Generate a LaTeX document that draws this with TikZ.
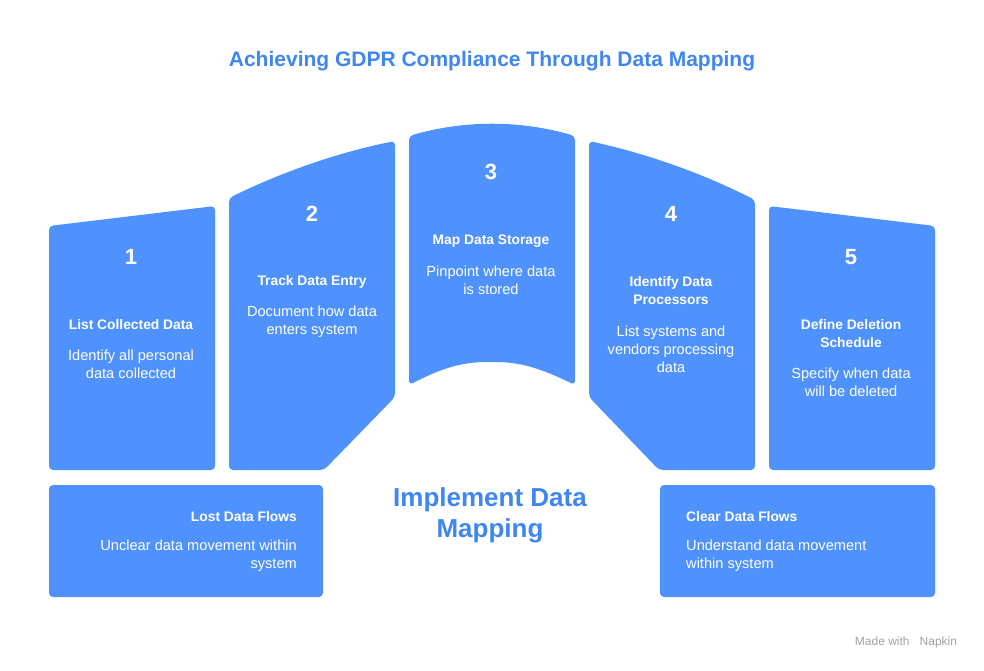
\documentclass[tikz,border=0pt]{standalone}
\usepackage{fontspec}
\usepackage{xcolor}
\usepackage{tikz}
\setmainfont{Liberation Sans}
\usetikzlibrary{
  positioning,
  calc
}
\definecolor{gdFill}{HTML}{5092FD}
\definecolor{gdTitle}{HTML}{3F86F4}
\definecolor{gdMute}{HTML}{A0A0A0}
\tikzset{
  gdshape/.style={fill=gdFill, draw=none, rounded corners=4pt},
  gdnum/.style={text=white, font=\fontsize{22}{26}\selectfont\bfseries},
  gdhead/.style={text=white, font=\fontsize{13.8}{18}\selectfont\bfseries, align=center, inner sep=0pt},
  gddesc/.style={text=white, font=\fontsize{14.6}{18}\selectfont, align=center, inner sep=0pt},
  gdcenter/.style={text=gdTitle, font=\fontsize{26}{31}\selectfont\bfseries, align=center},
  gdtitle/.style={text=gdTitle, font=\fontsize{21}{25}\selectfont\bfseries},
  gdmark/.style={text=gdMute, font=\fontsize{12}{14}\selectfont}
}

\begin{document}
\begin{tikzpicture}[x=1pt, y=-1pt]
  \useasboundingbox (0,0) rectangle (984,670);

  \node[gdtitle] (title) at (492,61) {Achieving GDPR Compliance Through Data Mapping};

  % arch columns
  \fill[gdshape] (49,226) -- (215,206) -- (215,470) -- (49,470) -- cycle;
  \fill[gdshape] (229,198) .. controls (284,171) and (340,152) .. (395,141)
    -- (395,397) -- (324,470) -- (229,470) -- cycle;
  \fill[gdshape] (409,136) .. controls (464,120) and (520,120) .. (575,136)
    -- (575,385) .. controls (540,368) and (520,362) .. (491,362)
    .. controls (462,362) and (442,368) .. (409,385) -- cycle;
  \fill[gdshape] (589,141) .. controls (644,153) and (700,172) .. (755,200)
    -- (755,470) -- (659,470) -- (589,397) -- cycle;
  \fill[gdshape] (769,206) -- (935,226) -- (935,470) -- (769,470) -- cycle;

  % bottom boxes
  \fill[gdshape] (49,485) rectangle (323,597);
  \fill[gdshape] (660,485) rectangle (935,597);

  \node[gdnum] (n1) at (131,257) {1};
  \node[gdhead] (h1) at (131,325) {List Collected Data};
  \node[gddesc] (d1) at (131,364) {Identify all personal\\data collected};

  \node[gdnum] (n2) at (312,214) {2};
  \node[gdhead] (h2) at (312,282) {Track Data Entry};
  \node[gddesc] (d2) at (312,322) {Document how data\\enters system};

  \node[gdnum] (n3) at (491,172) {3};
  \node[gdhead] (h3) at (491,241) {Map Data Storage};
  \node[gddesc] (d3) at (491,280) {Pinpoint where data\\is stored};

  \node[gdnum] (n4) at (671,214) {4};
  \node[gdhead] (h4) at (671,291) {Identify Data\\Processors};
  \node[gddesc] (d4) at (671,349) {List systems and\\vendors processing\\data};

  \node[gdnum] (n5) at (851,257) {5};
  \node[gdhead] (h5) at (851,334) {Define Deletion\\Schedule};
  \node[gddesc] (d5) at (851,382) {Specify when data\\will be deleted};

  \node[gdhead, anchor=east] (lost) at (297,517) {Lost Data Flows};
  \node[gddesc, anchor=east, align=right] (lostd) at (297,556) {Unclear data movement within\\system};

  \node[gdhead, anchor=west] (clear) at (686,517) {Clear Data Flows};
  \node[gddesc, anchor=west, align=left] (cleard) at (686,556) {Understand data movement\\within system};

  \node[gdcenter] (impl) at (490,515) {Implement Data\\Mapping};

  \node[gdmark] (mark) at (906,642) {Made with \ \ Napkin};
\end{tikzpicture}
\end{document}
